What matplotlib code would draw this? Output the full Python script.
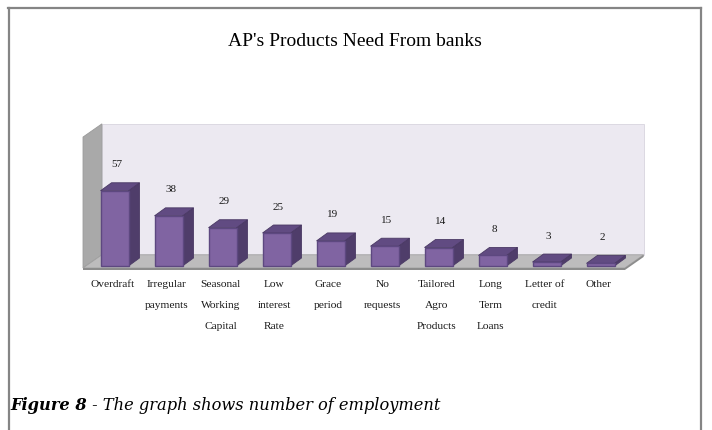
import matplotlib
matplotlib.use("Agg")
import matplotlib.pyplot as plt
from matplotlib.patches import Polygon, Rectangle
from matplotlib.lines import Line2D

categories = ["Overdraft", "Irregular\npayments", "Seasonal\nWorking\nCapital",
              "Low\ninterest\nRate", "Grace\nperiod", "No\nrequests",
              "Tailored\nAgro\nProducts", "Long\nTerm\nLoans", "Letter of\ncredit", "Other"]
values = [57, 38, 29, 25, 19, 15, 14, 8, 3, 2]
title = "AP's Products Need From banks"
caption_bold = "Figure 8"
caption_rest = " - The graph shows number of employment"

W, H = 712, 430
fig = plt.figure(figsize=(W / 100, H / 100), dpi=100)
ax = fig.add_axes([0, 0, 1, 1])
# pixel mapping: category i front centre at x=114.5+54*i ; value 0 at y=266 px from top, 1.32 px/unit
px_per_cat = 54.0
px_per_val = 1.32
ax.set_xlim(-114.5 / px_per_cat, (W - 114.5) / px_per_cat)
ax.set_ylim(-(H - 266) / px_per_val, 266 / px_per_val)
ax.axis("off")

serif = "Liberation Serif"

# walls / floor
n = len(values)
ddx, ddy = 0.35, 10.0          # depth of the floor/walls
fx0, fx1 = -0.583, 9.45        # floor front edge
fy = -1.5
wall_top = 97.7
back_col = "#ece9f1"
side_col = "#a9a9a9"
floor_col = "#bdbcbd"

ax.add_patch(Polygon([(fx0 + ddx, fy + ddy), (fx1 + ddx, fy + ddy),
                      (fx1 + ddx, wall_top + ddy), (fx0 + ddx, wall_top + ddy)],
                     closed=True, facecolor=back_col, edgecolor="#d8d5de", lw=0.6, zorder=1))
ax.add_patch(Polygon([(fx0, fy), (fx0, wall_top), (fx0 + ddx, wall_top + ddy), (fx0 + ddx, fy + ddy)],
                     closed=True, facecolor=side_col, edgecolor="#9a9a9a", lw=0.6, zorder=2))
ax.add_patch(Polygon([(fx0, fy), (fx1, fy), (fx1 + ddx, fy + ddy), (fx0 + ddx, fy + ddy)],
                     closed=True, facecolor=floor_col, edgecolor="#a0a0a0", lw=0.6, zorder=2))
ax.add_patch(Polygon([(fx0, fy), (fx1, fy), (fx1, fy - 1.6), (fx0, fy - 1.6)],
                     closed=True, facecolor="#8c8c8c", edgecolor="none", zorder=2))
ax.add_patch(Polygon([(fx1, fy), (fx1 + ddx, fy + ddy), (fx1 + ddx, fy + ddy - 1.6), (fx1, fy - 1.6)],
                     closed=True, facecolor="#8c8c8c", edgecolor="none", zorder=2))

# bars
bw = 28 / px_per_cat
bdx, bdy = 11 / px_per_cat, 8 / px_per_val
front_col = "#8064a2"
top_col = "#614b82"
side_bar_col = "#4f3d6a"
edge_col = "#4a3964"
for i, v in enumerate(values):
    x0, x1 = i - bw / 2, i + bw / 2
    ax.add_patch(Polygon([(x1, 0), (x1 + bdx, bdy), (x1 + bdx, v + bdy), (x1, v)],
                         closed=True, facecolor=side_bar_col, edgecolor=edge_col, lw=0.6, zorder=3))
    ax.add_patch(Polygon([(x0, v), (x1, v), (x1 + bdx, v + bdy), (x0 + bdx, v + bdy)],
                         closed=True, facecolor=top_col, edgecolor=edge_col, lw=0.6, zorder=3))
    ax.add_patch(Rectangle((x0, 0), bw, v, facecolor=front_col, edgecolor="#5d4880", lw=1.0, zorder=4))
    ax.annotate(str(v), xy=(i, v), xytext=(2, 26), textcoords="offset pixels",
                ha="center", va="center", fontsize=8, family=serif, color="#1a1a1a", zorder=5)
    ax.annotate(categories[i], xy=(i, 0), xytext=(-2, -14), textcoords="offset pixels",
                ha="center", va="top", fontsize=8.2, family=serif, color="#1a1a1a",
                linespacing=2.72, zorder=5)

fig.text(355 / W, 1 - 42 / H, title, ha="center", va="center", fontsize=14,
         family=serif, color="black")

t1 = fig.text(10 / W, 1 - 405 / H, caption_bold, ha="left", va="center", fontsize=11.7,
              family="DejaVu Serif", style="italic", weight="bold")
ax.annotate(caption_rest, xy=(1, 0), xycoords=t1, ha="left", va="bottom", fontsize=11.7,
            family="DejaVu Serif", style="italic")

# outer frame (top, left, right)
fc = "#858585"
fig.add_artist(Line2D([8 / W, 701 / W], [1 - 8 / H, 1 - 8 / H], transform=fig.transFigure,
                      color=fc, lw=1.6))
fig.add_artist(Line2D([8.5 / W, 8.5 / W], [1 - 8 / H, 0], transform=fig.transFigure,
                      color=fc, lw=1.6))
fig.add_artist(Line2D([701 / W, 701 / W], [1 - 8 / H, 0], transform=fig.transFigure,
                      color=fc, lw=1.6))

fig.savefig("out.png", dpi=100, facecolor="white")
